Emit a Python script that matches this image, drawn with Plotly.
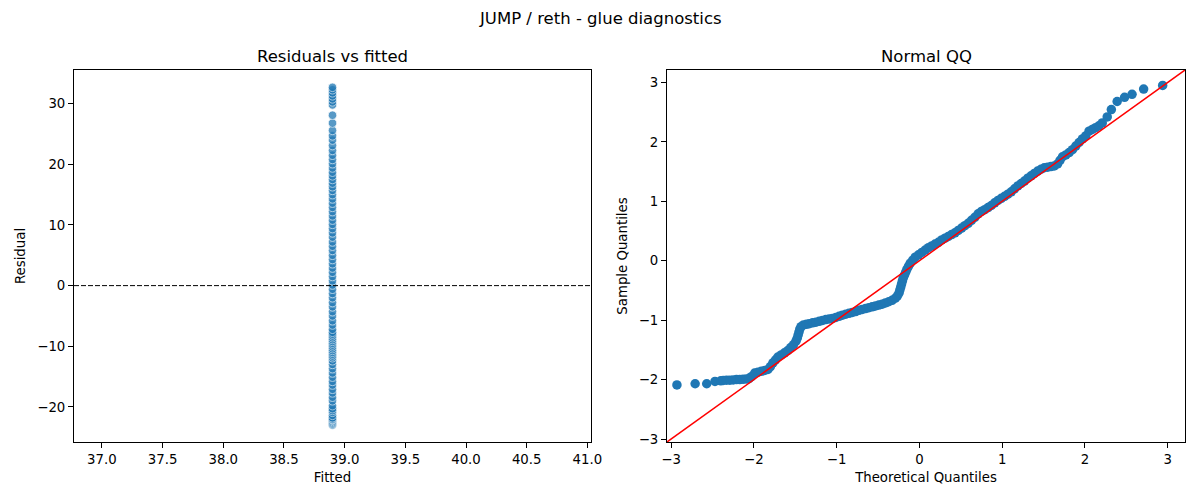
import plotly.graph_objects as go

# ---------------- data ----------------
fitted_value = 38.9
residuals = [
    -23.0, -22.8, -22.6, -22.4, -22.2, -22.1, -22.0, -21.8, -21.4, -20.9,
    -20.6, -20.3, -19.8, -19.0, -18.4, -17.7, -17.1, -16.4, -15.8, -15.1,
    -14.4, -13.7, -13.0, -12.4, -11.9, -11.6, -11.3, -11.0, -10.7, -10.4,
    -10.1, -9.8, -9.5, -9.2, -8.9, -8.6, -8.3, -8.0, -7.7, -7.2,
    -6.5, -5.8, -5.0, -4.3, -3.5, -2.8, -2.0, -1.3, -0.6, 0.1,
    0.8, 1.5, 2.2, 2.9, 3.6, 4.3, 5.0, 5.8, 6.5, 7.2,
    8.0, 8.7, 9.4, 10.1, 10.8, 11.5, 12.2, 12.9, 13.6, 14.3,
    15.0, 15.7, 16.3, 16.9, 17.5, 18.1, 18.7, 19.4, 20.1, 20.8,
    21.5, 22.3, 23.1, 24.0, 24.7, 25.6, 26.8, 28.1, 29.8, 30.3,
    30.8, 31.3, 31.8, 32.3, 32.7,
]

theoretical_q = [
    -2.93, -2.71, -2.57, -2.47, -2.40, -2.37, -2.33, -2.29, -2.25, -2.21,
    -2.17, -2.13, -2.09, -2.06, -2.03, -1.99, -1.95, -1.91, -1.87, -1.83,
    -1.80, -1.77, -1.74, -1.71, -1.67, -1.63, -1.59, -1.555, -1.52, -1.49,
    -1.475, -1.465, -1.455, -1.445, -1.43, -1.40, -1.365, -1.33, -1.29, -1.25,
    -1.21, -1.17, -1.13, -1.09, -1.05, -1.01, -0.97, -0.93, -0.89, -0.85,
    -0.81, -0.77, -0.73, -0.69, -0.65, -0.61, -0.57, -0.53, -0.49, -0.45,
    -0.41, -0.37, -0.33, -0.29, -0.265, -0.245, -0.235, -0.225, -0.215, -0.205,
    -0.195, -0.18, -0.165, -0.15, -0.13, -0.11, -0.08, -0.05, -0.01, 0.03,
    0.07, 0.11, 0.15, 0.19, 0.23, 0.27, 0.31, 0.35, 0.39, 0.43,
    0.47, 0.51, 0.55, 0.59, 0.63, 0.67, 0.71, 0.75, 0.79, 0.83,
    0.87, 0.91, 0.95, 0.99, 1.03, 1.07, 1.11, 1.15, 1.19, 1.23,
    1.27, 1.31, 1.35, 1.39, 1.43, 1.47, 1.51, 1.55, 1.59, 1.63,
    1.67, 1.70, 1.73, 1.77, 1.81, 1.85, 1.89, 1.93, 1.97, 2.01,
    2.05, 2.09, 2.13, 2.17, 2.21, 2.27, 2.32, 2.39, 2.48, 2.57,
    2.71, 2.94,
]
sample_q = [
    -2.09, -2.07, -2.07, -2.03, -2.02, -2.015, -2.01, -2.01, -2.005, -2.0,
    -2.0, -1.995, -1.99, -1.985, -1.95, -1.89, -1.875, -1.86, -1.845, -1.83,
    -1.78, -1.72, -1.67, -1.62, -1.585, -1.55, -1.51, -1.46, -1.41, -1.35,
    -1.30, -1.25, -1.20, -1.15, -1.11, -1.08, -1.07, -1.06, -1.045, -1.035,
    -1.02, -1.005, -0.99, -0.98, -0.97, -0.955, -0.935, -0.915, -0.90, -0.885,
    -0.87, -0.855, -0.835, -0.82, -0.805, -0.79, -0.775, -0.76, -0.745, -0.73,
    -0.71, -0.69, -0.665, -0.63, -0.59, -0.54, -0.49, -0.44, -0.39, -0.34,
    -0.29, -0.24, -0.19, -0.14, -0.09, -0.04, 0.01, 0.06, 0.10, 0.14,
    0.18, 0.22, 0.25, 0.28, 0.31, 0.35, 0.38, 0.41, 0.44, 0.47,
    0.51, 0.55, 0.59, 0.63, 0.68, 0.73, 0.79, 0.83, 0.86, 0.895,
    0.93, 0.975, 1.015, 1.05, 1.085, 1.12, 1.16, 1.21, 1.26, 1.30,
    1.34, 1.39, 1.43, 1.47, 1.51, 1.54, 1.565, 1.575, 1.585, 1.595,
    1.63, 1.69, 1.75, 1.78, 1.82, 1.87, 1.93, 1.99, 2.05, 2.10,
    2.18, 2.21, 2.24, 2.27, 2.32, 2.42, 2.545, 2.68, 2.75, 2.80,
    2.89, 2.95,
]

# 45-degree reference line end points (equal to the shared QQ axis limits)
qq_line = [-3.05, 3.21]

left_x_ticks = [37.0, 37.5, 38.0, 38.5, 39.0, 39.5, 40.0, 40.5, 41.0]
left_y_ticks = [-20, -10, 0, 10, 20, 30]
qq_ticks = [-3, -2, -1, 0, 1, 2, 3]

# ---------------- figure ----------------
# The page body has an 8px default margin, so the figure is drawn at
# 1184x484 and placed so that it lines up with the 1200x500 window.
OFF = 8
W, H = 1200 - 2 * OFF, 500 - 2 * OFF
FONT = "DejaVu Sans"
C0 = "#1f77b4"


def px_x(p):
    return (p - OFF) / W


def px_y(p):
    return 1 - (p - OFF) / H


fig = go.Figure()

fig.add_trace(go.Scatter(
    x=[fitted_value] * len(residuals), y=residuals, mode="markers",
    marker=dict(size=8.5, color=C0, opacity=0.75,
                line=dict(color="white", width=0.75)),
    xaxis="x", yaxis="y", showlegend=False, hoverinfo="x+y",
))

fig.add_trace(go.Scatter(
    x=theoretical_q, y=sample_q, mode="markers",
    marker=dict(size=9.5, color=C0, line=dict(width=0)),
    xaxis="x2", yaxis="y2", showlegend=False,
))

fig.add_trace(go.Scatter(
    x=qq_line, y=qq_line, mode="lines",
    line=dict(color="red", width=1.5),
    xaxis="x2", yaxis="y2", showlegend=False, hoverinfo="skip",
))

axis_common = dict(
    showline=True, mirror=True, linecolor="black", linewidth=1,
    ticks="outside", ticklen=5, tickwidth=1, tickcolor="black",
    showgrid=False, zeroline=False, automargin=False,
    tickfont=dict(family=FONT, size=13.3, color="black"),
)

fig.update_layout(
    width=W, height=H,
    margin=dict(l=0, r=0, t=0, b=0),
    paper_bgcolor="white", plot_bgcolor="white",
    font=dict(family=FONT, color="black"),
    xaxis=dict(axis_common, domain=[px_x(74), px_x(591)],
               range=[36.77, 41.03], tickvals=left_x_ticks, tickformat=".1f",
               anchor="y",
               title=dict(text="Fitted", font=dict(family=FONT, size=13.3),
                          standoff=6)),
    yaxis=dict(axis_common, domain=[px_y(442), px_y(70)],
               range=[-25.79, 35.56], tickvals=left_y_ticks, anchor="x",
               title=dict(text="Residual", font=dict(family=FONT, size=13.3),
                          standoff=8)),
    xaxis2=dict(axis_common, domain=[px_x(667), px_x(1185)],
                range=qq_line, tickvals=qq_ticks, anchor="y2",
                title=dict(text="Theoretical Quantiles",
                           font=dict(family=FONT, size=13.3), standoff=6)),
    yaxis2=dict(axis_common, domain=[px_y(442), px_y(70)],
                range=qq_line, tickvals=qq_ticks, anchor="x2",
                title=dict(text="Sample Quantiles",
                           font=dict(family=FONT, size=13.3), standoff=8)),
    shapes=[dict(type="line", xref="x domain", yref="y", x0=0, x1=1,
                 y0=0, y1=0, line=dict(color="black", width=1,
                                       dash="5px,2px"), layer="above")],
    annotations=[
        dict(text="JUMP / reth - glue diagnostics", x=px_x(600), y=px_y(18),
             xref="paper", yref="paper", showarrow=False,
             font=dict(family=FONT, size=16.5), xanchor="center",
             yanchor="middle"),
        dict(text="Residuals vs fitted", x=(px_x(74) + px_x(591)) / 2,
             y=px_y(56), xref="paper", yref="paper", showarrow=False,
             font=dict(family=FONT, size=16.5), xanchor="center",
             yanchor="middle"),
        dict(text="Normal QQ", x=(px_x(667) + px_x(1185)) / 2,
             y=px_y(56), xref="paper", yref="paper", showarrow=False,
             font=dict(family=FONT, size=16.5), xanchor="center",
             yanchor="middle"),
    ],
)

fig.write_html("out.html")
